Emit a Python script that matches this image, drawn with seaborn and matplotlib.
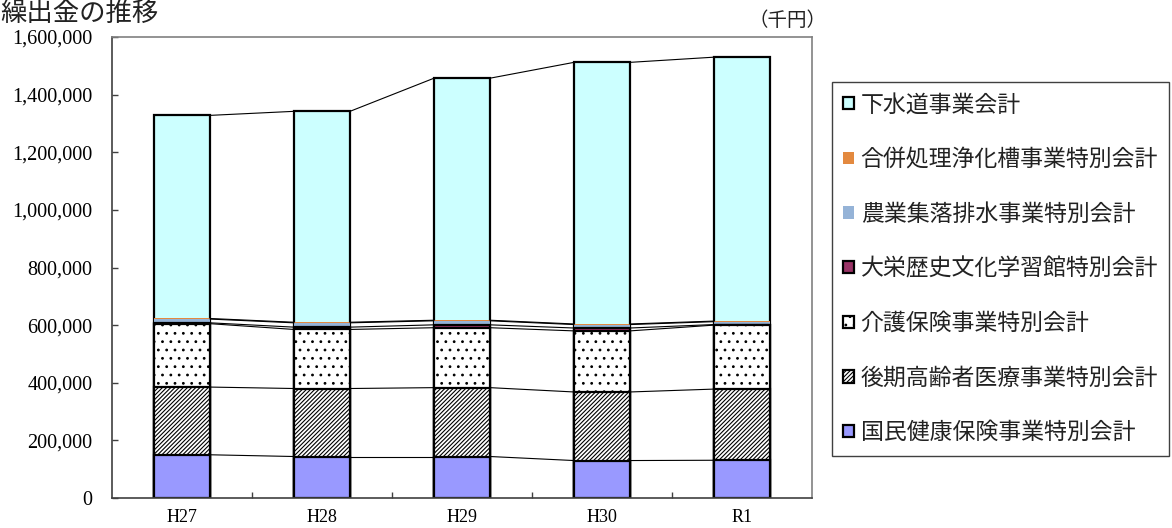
import matplotlib
matplotlib.use('Agg')
import matplotlib.pyplot as plt
import seaborn as sns
import pandas as pd
import numpy as np
from matplotlib.ticker import FuncFormatter, FixedLocator

# data (千円)
years = ['H27', 'H28', 'H29', 'H30', 'R1']
kokuho = [150000, 144000, 144000, 130000, 131000]
kouki = [235000, 236000, 239000, 238000, 247000]
kaigo = [220000, 205000, 208000, 212000, 222000]
daiei = [3000, 8000, 10000, 10000, 2000]
nougyou = [13000, 15000, 14000, 12000, 10000]
gappei = [2000, 2000, 2000, 2000, 2000]
gesuido = [705000, 732000, 840000, 908000, 916000]

names = ['国民健康保険事業特別会計', '後期高齢者医療事業特別会計', '介護保険事業特別会計',
         '大栄歴史文化学習館特別会計', '農業集落排水事業特別会計', '合併処理浄化槽事業特別会計',
         '下水道事業会計']
series = [kokuho, kouki, kaigo, daiei, nougyou, gappei, gesuido]
colors = ['#9999FF', 'white', 'white', '#993366', '#95B3D7', '#E3893F', '#CCFFFF']
hatches = [None, '////////', '..', None, None, None, None]
edges = ['black', 'black', 'black', 'black', 'none', 'none', 'black']

df = pd.DataFrame({'year': years})
cum = np.zeros(len(years))
cols = []
for i, s in enumerate(series):
    cum = cum + np.array(s)
    df['c%d' % i] = cum
    cols.append('c%d' % i)

sns.set_theme(style='white')
plt.rcParams['font.family'] = ['Noto Sans CJK JP', 'DejaVu Sans']
plt.rcParams['hatch.linewidth'] = 0.8
plt.rcParams['hatch.color'] = 'black'

fig = plt.figure(figsize=(11.72, 5.28), dpi=100)
ax = fig.add_axes([112 / 1172, 30 / 528, 700 / 1172, 461 / 528])

bw = 0.4
# draw cumulative bars from the top layer down so each one covers the one above
for i in range(len(series) - 1, -1, -1):
    kw = {}
    if hatches[i]:
        kw['hatch'] = hatches[i]
    sns.barplot(data=df, x='year', y=cols[i], color=colors[i], saturation=1,
                edgecolor=edges[i], linewidth=1.6, width=bw, errorbar=None,
                label=names[i], ax=ax, **kw)

# series lines between stacks
xs = np.arange(len(years))
for c in cols:
    v = df[c].values
    for j in range(len(years) - 1):
        ax.plot([xs[j] + bw / 2, xs[j + 1] - bw / 2], [v[j], v[j + 1]],
                color='black', lw=0.8, zorder=3)

ax.set_xlim(-0.5, len(years) - 0.5)
ax.set_ylim(0, 1600000)
ax.set_yticks(np.arange(0, 1600001, 200000))
ax.yaxis.set_major_formatter(FuncFormatter(lambda v, p: '{:,.0f}'.format(v)))
ax.set_xlabel('')
ax.set_ylabel('')

ax.xaxis.set_minor_locator(FixedLocator(xs[:-1] + 0.5))
ax.tick_params(axis='x', which='major', length=0, pad=8)
ax.tick_params(axis='x', which='minor', direction='in', length=4, width=1, color='#404040', bottom=True)
ax.tick_params(axis='y', which='major', direction='in', length=4, width=1, color='#404040', left=True, pad=14)
for lab in ax.get_yticklabels():
    lab.set_family(['Liberation Serif', 'DejaVu Serif'])
    lab.set_fontsize(14.5)
    lab.set_color('black')
for lab in ax.get_xticklabels():
    lab.set_family(['Liberation Serif', 'DejaVu Serif'])
    lab.set_fontsize(13)
    lab.set_color('black')

for sp in ['top', 'right']:
    ax.spines[sp].set_color('#808080')
    ax.spines[sp].set_linewidth(1.2)
for sp in ['left', 'bottom']:
    ax.spines[sp].set_color('#404040')
    ax.spines[sp].set_linewidth(1.2)

leg = ax.legend(loc='upper left', bbox_to_anchor=(832 / 1172, 1 - 82 / 528),
                bbox_transform=fig.transFigure, fontsize=16.5, frameon=True,
                fancybox=False, framealpha=1, edgecolor='#404040', borderaxespad=0,
                borderpad=0.5, handlelength=0.45, handleheight=0.45, handletextpad=0.3,
                labelspacing=1.38)
leg.get_frame().set_linewidth(1.0)
for t in leg.get_texts():
    t.set_color('#222222')

fig.text(0.0, 1.0, '繰出金の推移', fontsize=19, ha='left', va='top', color='#222222')
fig.text(827 / 1172, 1 - 20 / 528, '（千円）', fontsize=14, ha='right', va='center', color='#222222')

fig.savefig('out.png', dpi=100)
